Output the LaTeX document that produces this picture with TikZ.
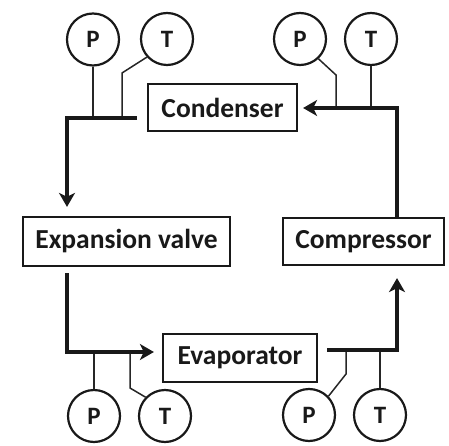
\documentclass[tikz,border=0pt]{standalone}
\usepackage{fontspec}
\setmainfont{Carlito}
\usetikzlibrary{arrows.meta,calc}
\begin{document}
\begin{tikzpicture}[x=1pt,y=-1pt,
  unit/.style={draw=black!90,line width=2.2pt,inner sep=0pt,font=\fontsize{27.5}{30}\selectfont\bfseries,text=black!90},
  gauge/.style={circle,draw=black!90,line width=2.2pt,minimum size=52pt,inner sep=0pt,font=\fontsize{25}{27}\selectfont\bfseries,text=black!90},
  flow/.style={draw=black!90,line width=3.8pt,-{Stealth[length=14pt,width=16pt,inset=4pt]}},
  sense/.style={draw=black!85,line width=1.5pt}]
\useasboundingbox (0,0) rectangle (449,446);
% units
\node[unit,minimum width=149pt,minimum height=47pt] (cond) at (222.5,107.5) {Condenser};
\node[unit,minimum width=207pt,minimum height=49pt] (exp) at (126.5,241.5) {Expansion valve};
\node[unit,minimum width=161pt,minimum height=47pt] (comp) at (363.5,241.5) {Compressor};
\node[unit,minimum width=154pt,minimum height=48pt] (evap) at (240,358) {Evaporator};
% gauges
\node[gauge] (p1) at (93,39.5) {P};
\node[gauge] (t1) at (167,39) {T};
\node[gauge] (p2) at (300,39) {P};
\node[gauge] (t2) at (371,39) {T};
\node[gauge] (p3) at (94,416) {P};
\node[gauge] (t3) at (165,416) {T};
\node[gauge] (p4) at (309,415) {P};
\node[gauge] (t4) at (380,415) {T};
% pipe corners
\coordinate (a1) at (137,118);
\coordinate (a2) at (67,118);
\coordinate (b1) at (67,352);
\coordinate (c4) at (397,350);
\coordinate (c2) at (397,108);
\coordinate (k1) at (122,73);
\coordinate (k2) at (336,75);
\coordinate (k3) at (130,388);
\coordinate (k4) at (346,374);
% sensor lines
\draw[sense] (p1.south) -- (p1.south |- a1);
\draw[sense] (t1.222) -- (k1) -- (k1 |- a1);
\draw[sense] (p2.-47) -- (k2) -- (k2 |- c2);
\draw[sense] (t2.south) -- (t2.south |- c2);
\draw[sense] (p3.north) -- (p3.north |- b1);
\draw[sense] (t3.136) -- (k3) -- (k3 |- b1);
\draw[sense] (p4.44) -- (k4) -- (k4 |- c4);
\draw[sense] (t4.north) -- (t4.north |- c4);
% refrigerant flow
\draw[flow,shorten >=9pt] (a1) -- (a2) -- (a2 |- exp.north);
\draw[flow,shorten <=6pt,shorten >=8pt] (a2 |- exp.south) -- (b1) -- (evap.west |- b1);
\draw[flow,shorten <=9pt,shorten >=12pt] (evap.east |- c4) -- (c4) -- (c4 |- comp.south);
\draw[flow,shorten >=5pt] (c4 |- comp.north) -- (c2) -- (cond.east |- c2);
\end{tikzpicture}
\end{document}
